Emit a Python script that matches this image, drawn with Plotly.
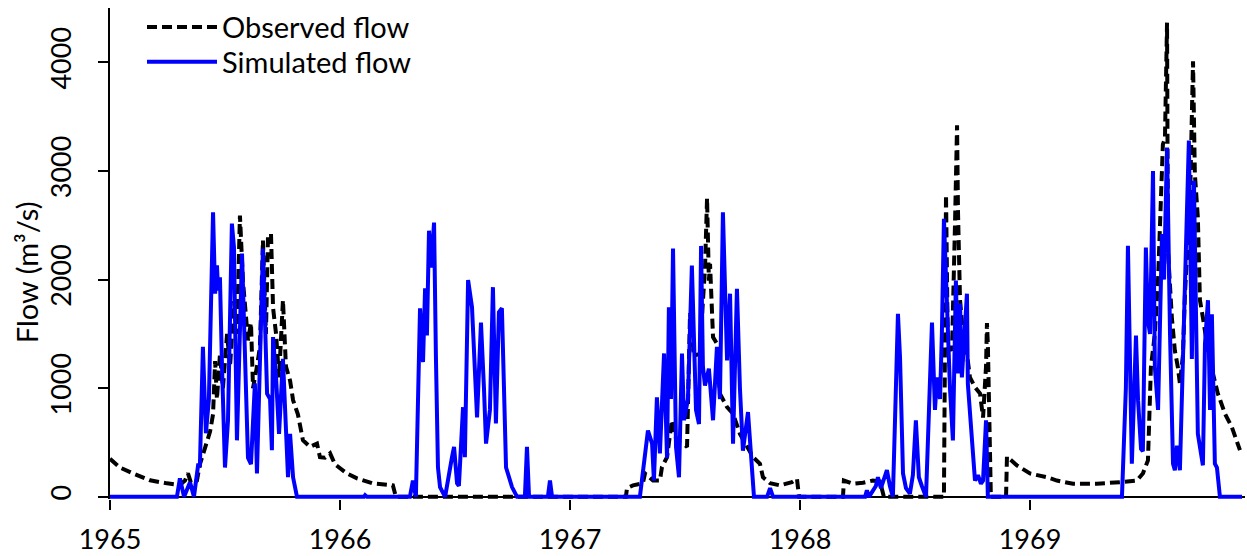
import plotly.graph_objects as go

# Observed daily flow (m3/s), sampled at turning points; time in decimal years
obs_t = [
    1965.000, 1965.043, 1965.100, 1965.174, 1965.248, 1965.304, 1965.326, 1965.339, 1965.352,
    1965.378, 1965.391, 1965.413, 1965.435, 1965.448, 1965.457, 1965.465, 1965.478, 1965.491,
    1965.509, 1965.522, 1965.539, 1965.552, 1965.565, 1965.578, 1965.591, 1965.600, 1965.613,
    1965.622, 1965.639, 1965.652, 1965.665, 1965.678, 1965.687, 1965.700, 1965.709, 1965.722,
    1965.735, 1965.752, 1965.765, 1965.783, 1965.796, 1965.817, 1965.839, 1965.870, 1965.900,
    1965.913, 1965.935, 1965.957, 1965.978, 1966.030, 1966.074, 1966.143, 1966.230, 1966.243,
    1967.243, 1967.248, 1967.274, 1967.317, 1967.326, 1967.361, 1967.391, 1967.400, 1967.422,
    1967.443, 1967.465, 1967.491, 1967.509, 1967.522, 1967.539, 1967.565, 1967.578, 1967.587,
    1967.596, 1967.600, 1967.604, 1967.609, 1967.622, 1967.639, 1967.652, 1967.683, 1967.709,
    1967.739, 1967.770, 1967.796, 1967.826, 1967.839, 1967.870, 1967.913, 1967.965, 1967.987,
    1967.996, 1968.187, 1968.191, 1968.230, 1968.274, 1968.317, 1968.348, 1968.365, 1968.626,
    1968.635, 1968.643, 1968.661, 1968.674, 1968.683, 1968.687, 1968.696, 1968.709, 1968.726,
    1968.739, 1968.761, 1968.783, 1968.796, 1968.809, 1968.813, 1968.817, 1968.826, 1968.830,
    1968.896, 1968.900, 1968.943, 1969.000, 1969.074, 1969.117, 1969.187, 1969.291, 1969.391,
    1969.465, 1969.491, 1969.513, 1969.526, 1969.543, 1969.557, 1969.565, 1969.578, 1969.587,
    1969.596, 1969.600, 1969.617, 1969.630, 1969.643, 1969.652, 1969.665, 1969.674, 1969.696,
    1969.709, 1969.717, 1969.730, 1969.739, 1969.752, 1969.774, 1969.796, 1969.817, 1969.848,
    1969.878, 1969.913,
]
obs_q = [
    350, 270, 216, 152, 124, 110, 150, 216, 130,
    150, 300, 450, 600, 760, 1250, 900, 1310, 1000,
    1500, 1200, 1800, 1500, 2590, 1990, 1700, 1440, 1600,
    1000, 1200, 1380, 2360, 1500, 2400, 2420, 1740, 1500,
    1100, 1810, 1200, 1070, 890, 760, 520, 460, 490,
    365, 360, 400, 300, 215, 170, 124, 106, 0,
    0, 80, 105, 125, 215, 150, 150, 275, 365,
    705, 500, 490, 460, 1690, 1300, 1315, 1800, 2100,
    2750, 2360, 1990, 2145, 1470, 1410, 950, 825, 765,
    580, 460, 365, 305, 180, 125, 105, 135, 165,
    0, 0, 150, 120, 130, 150, 140, 0, 0,
    2780, 1375, 1350, 2500, 3420, 2635, 1810, 1500, 1315,
    1100, 1010, 950, 730, 1200, 1600, 1400, 585, 0,
    0, 370, 290, 215, 180, 150, 120, 120, 135,
    150, 215, 335, 1195, 1500, 2000, 2420, 3245, 3300,
    4365, 2265, 1650, 1345, 1195, 1040, 1300, 1870, 2730,
    4010, 2970, 2570, 1810, 1650, 1345, 1130, 950, 765,
    640, 430,
]

# Simulated daily flow (m3/s)
sim_t = [
    1965.000, 1965.291, 1965.304, 1965.322, 1965.348, 1965.365, 1965.383, 1965.391, 1965.404,
    1965.417, 1965.430, 1965.448, 1965.457, 1965.465, 1965.470, 1965.478, 1965.487, 1965.500,
    1965.513, 1965.530, 1965.539, 1965.552, 1965.574, 1965.587, 1965.600, 1965.613, 1965.630,
    1965.639, 1965.652, 1965.665, 1965.683, 1965.696, 1965.704, 1965.709, 1965.722, 1965.735,
    1965.752, 1965.761, 1965.774, 1965.783, 1965.796, 1965.813, 1966.104, 1966.109, 1966.117,
    1966.304, 1966.317, 1966.330, 1966.348, 1966.361, 1966.370, 1966.378, 1966.387, 1966.396,
    1966.409, 1966.417, 1966.426, 1966.435, 1966.457, 1966.487, 1966.496, 1966.509, 1966.517,
    1966.535, 1966.543, 1966.557, 1966.574, 1966.596, 1966.613, 1966.626, 1966.635, 1966.652,
    1966.665, 1966.678, 1966.691, 1966.704, 1966.722, 1966.748, 1966.770, 1966.804, 1966.813,
    1966.822, 1966.904, 1966.913, 1966.922, 1967.304, 1967.322, 1967.339, 1967.357, 1967.365,
    1967.378, 1967.391, 1967.409, 1967.422, 1967.430, 1967.439, 1967.448, 1967.461, 1967.474,
    1967.487, 1967.496, 1967.513, 1967.530, 1967.548, 1967.561, 1967.570, 1967.578, 1967.587,
    1967.604, 1967.622, 1967.639, 1967.652, 1967.665, 1967.683, 1967.696, 1967.709, 1967.726,
    1967.739, 1967.752, 1967.774, 1967.791, 1967.800, 1967.857, 1967.870, 1967.883, 1968.283,
    1968.291, 1968.300, 1968.330, 1968.339, 1968.352, 1968.365, 1968.378, 1968.391, 1968.404,
    1968.426, 1968.435, 1968.448, 1968.461, 1968.478, 1968.491, 1968.504, 1968.517, 1968.530,
    1968.548, 1968.561, 1968.574, 1968.587, 1968.596, 1968.609, 1968.617, 1968.626, 1968.639,
    1968.652, 1968.665, 1968.678, 1968.687, 1968.696, 1968.704, 1968.713, 1968.726, 1968.730,
    1968.748, 1968.761, 1968.774, 1968.787, 1968.796, 1968.809, 1968.817, 1969.400, 1969.417,
    1969.426, 1969.443, 1969.461, 1969.470, 1969.483, 1969.491, 1969.504, 1969.513, 1969.522,
    1969.535, 1969.543, 1969.557, 1969.574, 1969.583, 1969.596, 1969.609, 1969.622, 1969.630,
    1969.639, 1969.652, 1969.674, 1969.691, 1969.704, 1969.713, 1969.730, 1969.752, 1969.761,
    1969.774, 1969.783, 1969.791, 1969.804, 1969.813, 1969.826, 1969.922,
]
sim_q = [
    0, 0, 170, 0, 135, 0, 290, 290, 1380,
    585, 900, 2620, 1870, 2130, 1900, 2020, 1200, 270,
    700, 2515, 2300, 520, 2240, 1200, 360, 300, 1045,
    215, 1130, 2285, 950, 900, 430, 1470, 1100, 580,
    1270, 800, 180, 580, 180, 0, 0, 15, 0,
    0, 150, 0, 1735, 1240, 1920, 1485, 2450, 2110,
    2525, 1300, 270, 90, 0, 365, 460, 125, 100,
    825, 365, 1995, 1745, 730, 1605, 1000, 490, 800,
    1930, 675, 1700, 1735, 270, 90, 0, 0, 460,
    0, 0, 150, 0, 0, 300, 610, 490, 150,
    915, 400, 1320, 355, 1745, 900, 2285, 460, 180,
    1320, 705, 900, 2130, 800, 670, 2310, 1200, 1025,
    1180, 705, 1380, 900, 2620, 1255, 1870, 490, 1915,
    1000, 425, 780, 270, 0, 0, 80, 0, 0,
    60, 0, 100, 180, 80, 150, 245, 100, 0,
    1685, 1285, 215, 80, 30, 200, 705, 180, 100,
    0, 800, 1605, 800, 1100, 900, 1500, 2560, 1810,
    1010, 520, 1990, 1135, 1780, 1100, 1440, 1870, 1040,
    520, 150, 200, 120, 150, 705, 0, 0, 1000,
    2310, 305, 1485, 890, 440, 420, 2295, 1625, 1500,
    3000, 1195, 800, 2420, 2000, 3215, 1500, 305, 245,
    470, 245, 1835, 3280, 1270, 2910, 580, 290, 1410,
    1810, 800, 1680, 305, 270, 0, 0,
]

year_ticks = [1965, 1966, 1967, 1968, 1969]
year_labels = ["1965", "1966", "1967", "1968", "1969"]
flow_ticks = [0, 1000, 2000, 3000, 4000]
flow_labels = ["0", "1000", "2000", "3000", "4000"]

FONT = "Lato, 'Open Sans', sans-serif"

fig = go.Figure()
fig.add_trace(go.Scatter(
    x=obs_t, y=obs_q, mode="lines", name="Observed flow", legend="legend",
    line=dict(color="#000000", width=4, dash="10px,5px"),
))
fig.add_trace(go.Scatter(
    x=sim_t, y=sim_q, mode="lines", name="Simulated flow", legend="legend2",
    line=dict(color="#0000FF", width=4),
))

legend_style = dict(
    x=0.0282, xanchor="left", yanchor="middle",
    bgcolor="rgba(0,0,0,0)", font=dict(size=29), itemwidth=70,
)

fig.update_layout(
    width=1247, height=556,
    margin=dict(l=110, r=2, t=8, b=57),
    paper_bgcolor="white", plot_bgcolor="white",
    font=dict(family=FONT, size=27, color="black"),
    showlegend=True,
    legend=dict(y=0.961, **legend_style),
    legend2=dict(y=0.890, **legend_style),
    xaxis=dict(
        range=[1965, 1969.935],
        tickmode="array", tickvals=year_ticks, ticktext=year_labels,
        showgrid=False, zeroline=False,
        showline=False,
        ticks="outside", ticklen=10, tickwidth=2, tickcolor="black",
        tickfont=dict(size=27), ticklabelstandoff=7,
    ),
    yaxis=dict(
        range=[-20, 4500],
        tickmode="array", tickvals=flow_ticks, ticktext=flow_labels,
        tickangle=-90,
        showgrid=False,
        zeroline=True, zerolinecolor="black", zerolinewidth=2,
        showline=True, linecolor="black", linewidth=2,
        ticks="outside", ticklen=10, tickwidth=2, tickcolor="black",
        tickfont=dict(size=27), ticklabelstandoff=16,
    ),
    annotations=[dict(
        text="Flow (m³/s)", textangle=-90,
        xref="paper", yref="paper", x=-0.0740, y=0.462,
        xanchor="center", yanchor="middle", showarrow=False,
        font=dict(size=29),
    )],
)

fig.write_html("out.html")
